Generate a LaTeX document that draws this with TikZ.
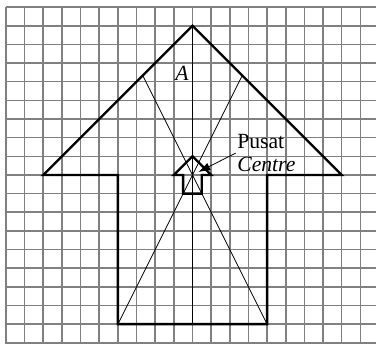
\documentclass[tikz,border=0pt]{standalone}
\usepackage{fontspec}
\setmainfont{Liberation Serif}
\usetikzlibrary{arrows.meta}
\begin{document}
\begin{tikzpicture}[x=0.5cm, y=0.5cm, every node/.style={font=\fontsize{16.5}{17.3}\selectfont}, >={Latex[length=3.2mm, width=2.2mm]}]
	\useasboundingbox (-0.32,-0.05) rectangle (19.84,18.38);
	\foreach \i in {0,...,18} \draw[black!50, line width=1.2pt] (0,\i) -- (19.84,\i);
	\foreach \i in {0,...,19} \draw[black!50, line width=1.2pt] (\i,-0.05) -- (\i,18);
	\coordinate (O) at (10,9);
	\coordinate (top) at (10,17);
	\coordinate (bl) at (6,1);
	\coordinate (br) at (14,1);
	\coordinate (roofL) at (22/3,43/3);
	\coordinate (roofR) at (38/3,43/3);
	\draw[line width=0.6pt] (top) -- (10,1);
	\draw[line width=0.6pt] (br) -- (roofL);
	\draw[line width=0.6pt] (bl) -- (roofR);
	\draw[line width=1.8pt, line join=miter] (top) -- (18,9) -- (14,9) -- (br) -- (bl) -- (6,9) -- (2,9) -- cycle;
	\draw[line width=1.8pt, line join=miter] (10,10) -- (11,9) -- (10.5,9) -- (10.5,8) -- (9.5,8) -- (9.5,9) -- (9,9) -- cycle;
	\node[font=\fontsize{16.5}{17.3}\selectfont\itshape] (lblA) at (9.44,14.45) {A};
	\node[anchor=west, align=left, inner sep=1pt] (pusat) at (12.32,10.17) {Pusat\\ \textit{Centre}};
	\draw[->, line width=0.6pt, shorten >=5pt] (pusat.west) -- (O);
\end{tikzpicture}
\end{document}
